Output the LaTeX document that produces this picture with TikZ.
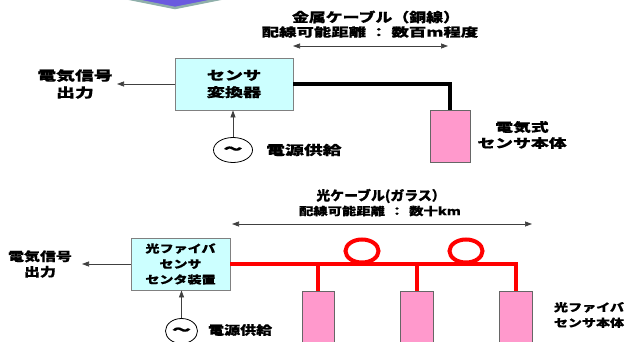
\documentclass[tikz,border=0pt]{standalone}
\usepackage{fontspec}
\usetikzlibrary{arrows.meta,shapes.geometric}
\newfontfamily\jpW{Noto Sans CJK JP}[FakeStretch=1.45,FakeBold=0.6]
\newfontfamily\jpM{Noto Sans CJK JP}[FakeStretch=1.3,FakeBold=0.6]
\newfontfamily\jpN{Noto Sans CJK JP}[FakeStretch=1.05,FakeBold=0.6]
\definecolor{boxcyan}{HTML}{CCFFFF}
\definecolor{boxpink}{HTML}{FF99CC}
\definecolor{chevfill}{HTML}{6A5ADF}
\definecolor{chevedge}{HTML}{8FAFAA}
\definecolor{thinline}{HTML}{404040}
\tikzset{
  lblW/.style={font=\jpW\bfseries\fontsize{13}{17}\selectfont, align=center, inner sep=0pt},
  lblM/.style={font=\jpM\bfseries\fontsize{12.3}{15.5}\selectfont, align=center, inner sep=0pt},
  ttlA/.style={font=\jpM\bfseries\fontsize{13}{14}\selectfont, inner sep=0pt},
  subA/.style={font=\jpW\bfseries\fontsize{12}{14}\selectfont, inner sep=0pt},
  ttlB/.style={font=\jpN\bfseries\fontsize{13.2}{14}\selectfont, inner sep=0pt},
  subB/.style={font=\jpM\bfseries\fontsize{11}{14}\selectfont, inner sep=0pt},
  cbox/.style={draw=gray, fill=boxcyan, line width=0.8pt, align=center, inner sep=0pt},
  pbox/.style={draw=gray!80!black, fill=boxpink, line width=0.8pt, inner sep=0pt},
  arr/.style={draw=thinline, line width=0.7pt, -{Triangle[length=7pt,width=5pt]}},
  dblarr/.style={draw=thinline, line width=0.7pt, {Triangle[length=7pt,width=5pt]}-{Triangle[length=7pt,width=5pt]}},
  cable/.style={draw=black, line width=4.5pt},
  redline/.style={draw=red, line width=4pt},
  fibloop/.style={ellipse, draw=red, line width=4pt, minimum width=33pt, minimum height=23pt, inner sep=0pt},
  pwr/.style={ellipse, draw=black, line width=0.8pt, fill=white, inner sep=0pt, font=\jpW\bfseries\fontsize{13}{13}\selectfont},
}
\begin{document}
\begin{tikzpicture}[x=1pt,y=-1pt]
\useasboundingbox (0,0) rectangle (626,342);
% top decoration
\draw[draw=chevedge, fill=chevfill, line width=2.5pt] (85,-10) -- (265,-10) -- (175,8) -- cycle;

% ---------- upper section ----------
\node[ttlA] (t1) at (376,17) {金属ケーブル（銅線）};
\node[subA] (s1) at (370,32) {配線可能距離\hspace{4pt}：\hspace{4pt}数百m程度};
\coordinate (d1l) at (293,46);
\coordinate (d1r) at (448,46);
\draw[dblarr] (d1l) -- (d1r);

\node[cbox, minimum width=118pt, minimum height=52pt, font=\jpW\bfseries\fontsize{12.5}{17}\selectfont] (conv) at (234,84) {センサ\\変換器};
\coordinate (out1) at (117,84);
\draw[arr] (conv.west) -- (out1);
\node[lblW] (o1) at (75,84) {電気信号\\出力};

\node[pbox, minimum width=40pt, minimum height=52pt] (es) at (450,136) {};
\draw[cable] (conv.east) -| (es.north);
\node[lblW, font=\jpW\bfseries\fontsize{12.3}{16}\selectfont] (esl) at (522,135) {電気式\\センサ本体};

\node[pwr, minimum width=39pt, minimum height=25pt] (pw1) at (233,150) {～};
\draw[arr] (pw1.north) -- (pw1.north |- conv.south);
\node[lblW, anchor=west] (pl1) at (266,150) {電源供給};

% ---------- lower section ----------
\node[ttlB] (t2) at (381,196) {光ケーブル(ガラス）};
\node[subB] (s2) at (380,211) {配線可能距離\hspace{5pt}：\hspace{5pt}数十km};
\coordinate (d2l) at (232,224);
\coordinate (d2r) at (532,224);
\draw[dblarr] (d2l) -- (d2r);

\node[cbox, minimum width=99pt, minimum height=52pt, font=\jpM\bfseries\fontsize{10.8}{15.5}\selectfont] (ctr) at (180.5,264) {光ファイバ\\センサ\\センタ装置};
\coordinate (out2) at (82,264);
\draw[arr] (ctr.west) -- (out2);
\node[lblM] (o2) at (40,264) {電気信号\\出力};

\node[pbox, minimum width=32pt, minimum height=60pt] (pa) at (318,321) {};
\node[pbox, minimum width=33pt, minimum height=60pt] (pb) at (417,321) {};
\node[pbox, minimum width=33pt, minimum height=60pt] (pc) at (516,321) {};
\draw[redline] (ctr.east) -| (pc.north);
\draw[redline] (pa.north) -- (pa.north |- ctr.east);
\draw[redline] (pb.north) -- (pb.north |- ctr.east);
\node[fibloop] (lp1) at (362,251) {};
\node[fibloop] (lp2) at (466,251) {};
\node[lblM, font=\jpM\bfseries\fontsize{10.8}{15.5}\selectfont] (fsl) at (589,315) {光ファイバ\\センサ本体};

\node[pwr, minimum width=32pt, minimum height=25pt] (pw2) at (181.5,331) {～};
\draw[arr] (pw2.north) -- (pw2.north |- ctr.south);
\node[lblM, anchor=west] (pl2) at (208,330) {電源供給};
\end{tikzpicture}
\end{document}
